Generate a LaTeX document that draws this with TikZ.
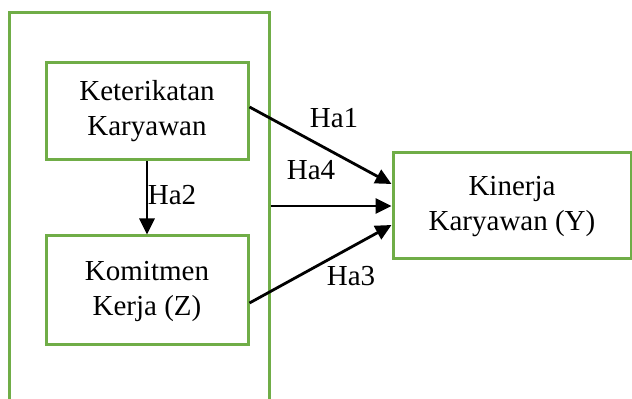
\documentclass[tikz,border=0pt]{standalone}
\usepackage{fontspec}
\setmainfont{Liberation Serif}
\usetikzlibrary{arrows.meta}
\definecolor{boxgreen}{HTML}{70AD47}

\begin{document}
\begin{tikzpicture}[x=1pt, y=1pt,
    font=\fontsize{29}{35}\selectfont,
    box/.style={draw=boxgreen, line width=3pt, align=center, inner sep=0pt},
    hyp/.style={-{Triangle[length=16pt, width=15pt]}, line width=2.8pt}]
    \clip (0, 0) rectangle (632, 399);
    \node[box, minimum width=260pt, minimum height=406pt] (frame) at (139, 183) {};
    \node[box, minimum width=202pt, minimum height=97pt] (ket) at (147, 287.5) {Keterikatan\\Karyawan};
    \node[box, minimum width=202pt, minimum height=109pt] (kom) at (147, 108.5) {Komitmen\\Kerja (Z)\\[-30pt]};
    \node[box, minimum width=238pt, minimum height=106pt] (kin) at (512, 193) {Kinerja\\Karyawan (Y)\\[-30pt]};
    \draw[hyp] (ket.south) -- (kom.north);
    \draw[hyp] ([yshift=4.5pt]ket.east) -- ([yshift=22pt]kin.west);
    \draw[hyp] (frame.east |- kin.west) -- (kin.west);
    \draw[hyp] ([yshift=-12.5pt]kom.east) -- ([yshift=-19pt]kin.west);
    \node (ha1) at (334, 281) {Ha1};
    \node (ha2) at (172, 204) {Ha2};
    \node (ha4) at (311, 229) {Ha4};
    \node (ha3) at (351, 123) {Ha3};
\end{tikzpicture}
\end{document}
